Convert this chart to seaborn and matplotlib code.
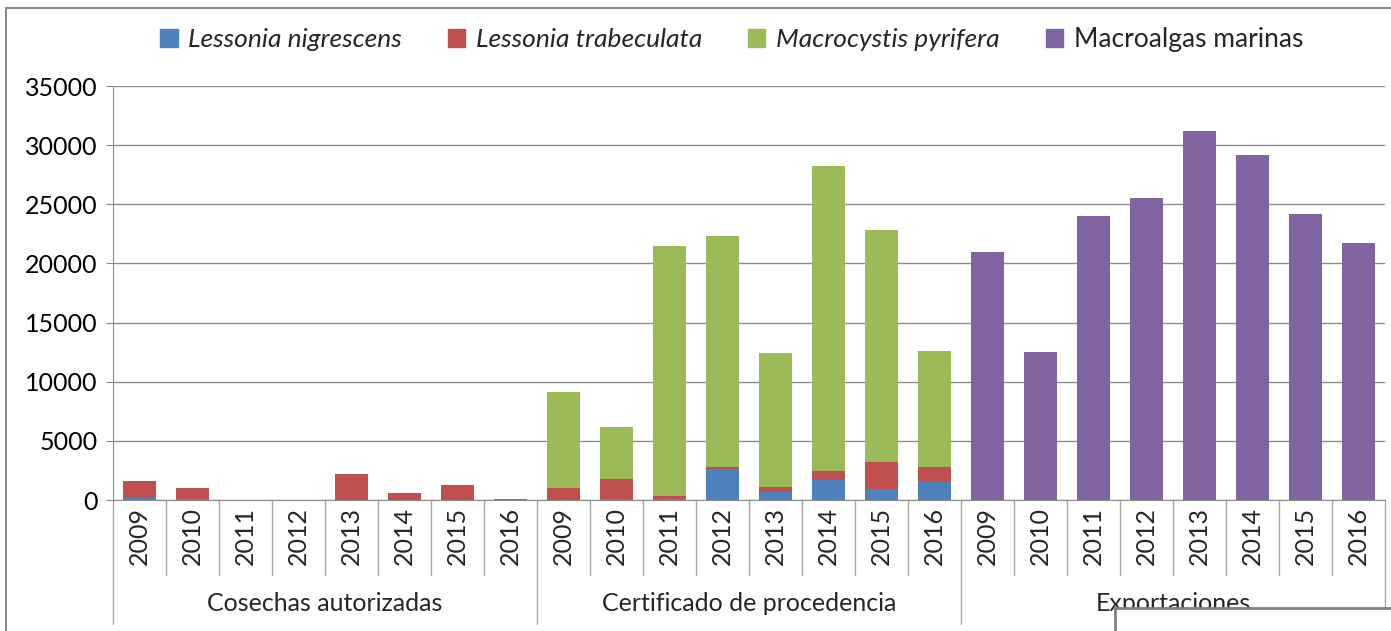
import matplotlib.pyplot as plt
import matplotlib.patches as mpatches
import matplotlib.transforms as mtransforms
import pandas as pd
import seaborn as sns

# data
groups = ['Cosechas autorizadas', 'Certificado de procedencia', 'Exportaciones']
years = ['2009', '2010', '2011', '2012', '2013', '2014', '2015', '2016']

nigrescens = [200, 100, 0, 0, 0, 0, 0, 50,
              0, 100, 100, 2600, 700, 1670, 960, 1520,
              0, 0, 0, 0, 0, 0, 0, 0]
trabeculata = [1400, 900, 0, 0, 2200, 600, 1250, 50,
               1000, 1650, 200, 220, 430, 760, 2230, 1240,
               0, 0, 0, 0, 0, 0, 0, 0]
pyrifera = [0, 0, 0, 0, 0, 0, 0, 0,
            8130, 4450, 21200, 19500, 11300, 25800, 19640, 9840,
            0, 0, 0, 0, 0, 0, 0, 0]
macroalgas = [0, 0, 0, 0, 0, 0, 0, 0,
              0, 0, 0, 0, 0, 0, 0, 0,
              21000, 12500, 24000, 25500, 31200, 29150, 24200, 21700]

colors = {'Lessonia nigrescens': '#4F81BD', 'Lessonia trabeculata': '#C0504D',
          'Macrocystis pyrifera': '#9BBB59', 'Macroalgas marinas': '#8064A2'}

sns.set_style("white")
plt.rcParams['font.family'] = ['Lato', 'DejaVu Sans']
FS = 18

df = pd.DataFrame({
    'pos': list(range(24)),
    'nig': nigrescens,
    'tra': trabeculata,
    'pyr': pyrifera,
    'mac': macroalgas,
})
df['c1'] = df['nig']
df['c2'] = df['c1'] + df['tra']
df['c3'] = df['c2'] + df['pyr']
df['c4'] = df['c3'] + df['mac']

fig = plt.figure(figsize=(13.91, 6.31), dpi=100)
ax = fig.add_axes([113 / 1391, 1 - 500 / 631, 1272 / 1391, 414 / 631])

# stacked bars: draw cumulative totals from top layer down
for col, name in [('c4', 'Macroalgas marinas'), ('c3', 'Macrocystis pyrifera'),
                  ('c2', 'Lessonia trabeculata'), ('c1', 'Lessonia nigrescens')]:
    sns.barplot(data=df, x='pos', y=col, color=colors[name], width=0.64,
                saturation=1, errorbar=None, ax=ax, native_scale=True,
                edgecolor='none', linewidth=0, zorder=3)

ax.set_xlim(-0.5, 23.5)
ax.set_ylim(0, 35000)
ax.set_yticks(range(0, 35001, 5000))
ax.set_yticklabels([str(v) for v in range(0, 35001, 5000)], fontsize=FS, color='black')
ax.set_xticks([])
ax.set_xlabel('')
ax.set_ylabel('')
ax.yaxis.grid(True, color='#8C8C8C', linewidth=1)
ax.set_axisbelow(True)
for s in ['top', 'right']:
    ax.spines[s].set_visible(False)
ax.spines['left'].set_color('#8C8C8C')
ax.spines['bottom'].set_color('#8C8C8C')
ax.tick_params(axis='y', left=True, length=5, color='#8C8C8C', pad=6)

# multi-level category axis
trans = mtransforms.blended_transform_factory(ax.transData, ax.transAxes)
for i in range(25):
    bottom = -0.30 if i % 8 == 0 else -0.18
    ax.plot([i - 0.5, i - 0.5], [0, bottom], transform=trans, color='#A6A6A6',
            linewidth=1, clip_on=False)
for i in range(24):
    ax.text(i, -0.088, years[i % 8], transform=trans, rotation=90,
            ha='center', va='center', fontsize=FS)
for g, name in enumerate(groups):
    ax.text(g * 8 + 3.5, -0.25, name, transform=trans, ha='center',
            va='center', fontsize=FS)

# legend
handles = [mpatches.Patch(color=c, label=n) for n, c in colors.items()]
leg = fig.legend(handles=handles, loc='center', bbox_to_anchor=(0.526, 0.937),
                 ncol=4, frameon=False, fontsize=19, handlelength=0.65,
                 handleheight=0.65, handletextpad=0.4, columnspacing=1.75)
for t in leg.get_texts()[:3]:
    t.set_style('italic')

# chart frame and the overlapping box at the bottom right
fig.patches.append(mpatches.Rectangle((6 / 1391, -0.1), 1.2, 1.1 - 8 / 631,
                                      transform=fig.transFigure, fill=False,
                                      edgecolor='#8C8C8C', linewidth=1.5))
fig.patches.append(mpatches.Rectangle((1115 / 1391, -0.1), 0.3, 0.1 + 23 / 631,
                                      transform=fig.transFigure, facecolor='white',
                                      edgecolor='#808080', linewidth=2, zorder=10))

fig.savefig('out.png', dpi=100)
